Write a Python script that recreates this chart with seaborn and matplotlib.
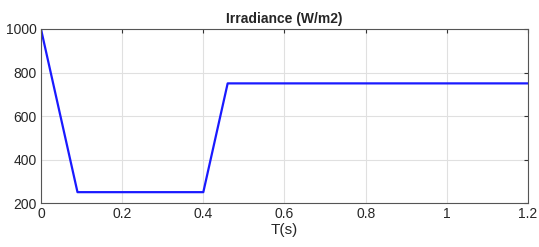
import matplotlib
matplotlib.use("Agg")
import matplotlib.pyplot as plt
import pandas as pd
import seaborn as sns

# breakpoints of the irradiance profile
t_s = [0.0, 0.09, 0.40, 0.46, 1.2]
irradiance = [1000, 250, 250, 750, 750]

sns.set_theme(style="white")
plt.rcParams['font.family'] = ['Liberation Sans', 'DejaVu Sans']

fig = plt.figure(figsize=(5.39, 2.47), dpi=100)
ax = fig.add_axes([0.076, 0.178, 0.9036, 0.7046])

df = pd.DataFrame({"T": t_s, "G": irradiance})
sns.lineplot(data=df, x="T", y="G", ax=ax, color="#1a1aff", linewidth=1.6, sort=False)

ax.set_xlim(0, 1.2)
ax.set_ylim(200, 1000)
ax.set_xticks([0, 0.2, 0.4, 0.6, 0.8, 1.0, 1.2])
ax.set_xticklabels(["0", "0.2", "0.4", "0.6", "0.8", "1", "1.2"])
ax.set_yticks([200, 400, 600, 800, 1000])
ax.grid(True, color="#e0e0e0", linewidth=0.8)
ax.tick_params(direction="in", top=True, right=True, length=3, width=0.8,
               color="#333333", labelsize=10, labelcolor="#262626", pad=3)
for s in ax.spines.values():
    s.set_color("#555555")
    s.set_linewidth(0.8)

ax.set_xlabel("T(s)", fontsize=11, color="#262626", labelpad=1)
ax.set_ylabel("")
ax.set_title("Irradiance (W/m2)", fontsize=10, fontweight="bold", pad=4)

fig.savefig("out.png", dpi=100)
